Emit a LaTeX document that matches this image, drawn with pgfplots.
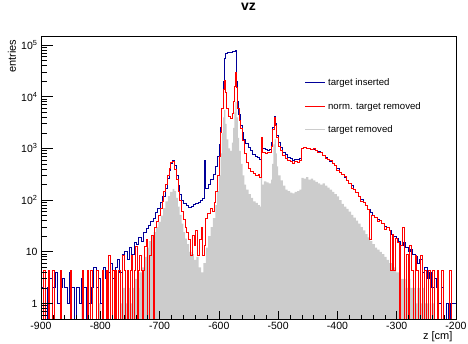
\documentclass[border=0pt]{standalone}
\usepackage{pgfplots}
\pgfplotsset{compat=1.18}
\usepackage{fontspec}
\setmainfont{Liberation Sans}
\definecolor{rootblue}{RGB}{0,0,153}
\definecolor{rootred}{RGB}{255,0,0}
\definecolor{rootgray}{RGB}{204,204,204}
\newcommand{\legkey}[1]{\textcolor{#1}{\rule[2.7pt]{20pt}{0.8pt}}\hspace{3pt}}
\begin{document}
\begin{tikzpicture}
\useasboundingbox (0,0) rectangle (468pt,343pt);
\begin{axis}[
 at={(41pt,24pt)}, anchor=south west,
 scale only axis, width=415pt, height=283pt,
 ymode=log, xmin=-900, xmax=-200, ymin=0.5, ymax=1.5e5,
 axis on top,
 axis line style={line width=0.8pt},
 tick align=inside, xtick pos=bottom, ytick pos=left,
 xtick={-900,-800,-700,-600,-500,-400,-300,-200},
 xticklabels={-900,-800,-700,-600,-500,-400,-300,-200},
 minor xtick={-880,-860,-840,-820,-780,-760,-740,-720,-680,-660,-640,-620,-580,-560,-540,-520,-480,-460,-440,-420,-380,-360,-340,-320,-280,-260,-240,-220},
 ytick={1,10,100,1000,10000,100000},
 yticklabels={1,10,{10\textsuperscript{2}},{10\textsuperscript{3}},{10\textsuperscript{4}},{10\textsuperscript{5}}},
 minor ytick={0.6,0.7,0.8,0.9,2,3,4,5,6,7,8,9,20,30,40,50,60,70,80,90,200,300,400,500,600,700,800,900,2000,3000,4000,5000,6000,7000,8000,9000,20000,30000,40000,50000,60000,70000,80000,90000},
 major tick length=12pt, minor tick length=6pt,
 xtick style={/pgfplots/major tick length=8.5pt,/pgfplots/minor tick length=4.3pt},
 tick style={black, line width=0.7pt},
 ticklabel style={font=\fontsize{10.5}{12}\selectfont},
 title={vz},
 title style={at={(0.5,1.081)}, anchor=center, font=\fontsize{14}{16}\selectfont\bfseries},
 xlabel={z [cm]},
 xlabel style={at={(1,-0.0636)}, anchor=east, font=\fontsize{11}{13}\selectfont},
 ylabel={entries},
 ylabel style={at={(-0.0699,1)}, anchor=east, font=\fontsize{11}{13}\selectfont},
]

% target removed (gray fill)
\addplot[const plot, fill=rootgray, draw=none] coordinates {
(-900,0.1)(-832,1)(-829,0.1)(-802,1)(-799,0.1)(-766,1)(-762,2)(-758,1)(-754,2)(-750,1)(-746,2)(-742,3)(-738,2)(-734,4)(-730,5)(-726,8)(-722,12)(-718,16)(-714,20)(-710,24)(-706,30)(-702,38)(-698,50)(-694,70)(-690,95)(-686,120)(-682,145)(-678,165)(-675,150)(-672,110)(-669,75)(-666,52)(-663,35)(-660,24)(-657,18)(-654,14)(-650,10)(-646,9)(-642,7)(-638,8)(-634,5)(-630,4)(-626,6)(-622,12)(-618,20)(-614,30)(-610,45)(-606,80)(-603,150)(-600,300)(-597,800)(-595,2000)(-593,4000)(-591,5500)(-589,3000)(-587,1500)(-584,1000)(-581,900)(-578,1300)(-576,2500)(-574,5000)(-572,8000)(-570,4000)(-568,1600)(-566,900)(-563,500)(-560,300)(-557,200)(-554,160)(-550,130)(-546,110)(-542,95)(-538,88)(-534,80)(-531,75)(-529,700)(-527,200)(-524,230)(-520,220)(-516,210)(-512,250)(-510,500)(-508,1200)(-506,1500)(-504,800)(-502,450)(-500,300)(-496,240)(-492,190)(-488,160)(-484,150)(-480,140)(-476,135)(-472,145)(-468,150)(-464,160)(-461,270)(-457,260)(-453,280)(-449,250)(-445,260)(-441,240)(-437,225)(-433,210)(-429,200)(-425,210)(-421,190)(-417,175)(-413,160)(-409,145)(-405,130)(-401,118)(-397,100)(-393,85)(-389,75)(-385,68)(-381,60)(-377,52)(-373,46)(-369,40)(-365,35)(-361,30)(-357,26)(-353,22)(-349,19)(-345,16)(-341,14)(-337,12)(-333,11)(-329,10)(-325,9)(-321,8)(-317,7)(-313,6)(-309,6)(-305,5)(-301,4)(-297,4)(-293,3)(-289,3)(-285,2)(-281,3)(-277,2)(-273,2)(-269,1)(-265,2)(-261,1)(-257,2)(-253,1)(-249,1)(-245,0.1)(-241,1)(-237,0.1)(-200,0.1)
};

% target inserted (blue)
\addplot[const plot, color=rootblue, line width=0.8pt] coordinates {
(-900,2)(-896,4)(-892,0.1)(-889,2)(-885,3)(-880,2)(-876,4)(-872,1)(-868,2)(-864,3)(-860,2)(-856,1)(-852,4)(-848,2)(-844,0.1)(-840,2)(-836,1)(-832,3)(-828,2)(-824,0.1)(-820,1)(-815,2)(-811,5)(-807,2)(-803,3)(-799,1)(-795,5)(-791,3)(-787,4)(-783,6)(-779,3)(-775,5)(-771,7)(-767,4)(-763,9)(-759,10)(-755,7)(-751,12)(-747,9)(-743,15)(-739,14)(-735,19)(-731,16)(-727,24)(-723,28)(-719,33)(-715,38)(-711,45)(-707,58)(-703,70)(-699,90)(-695,120)(-691,170)(-687,260)(-684,380)(-681,520)(-678,580)(-675,460)(-672,300)(-669,190)(-666,130)(-663,100)(-659,88)(-655,80)(-651,72)(-647,76)(-643,82)(-639,88)(-635,92)(-631,100)(-627,110)(-624,600)(-622,170)(-618,200)(-614,250)(-610,320)(-606,450)(-602,700)(-599,1200)(-597,2500)(-595,6000)(-593,20000)(-591,55000)(-589,68000)(-586,72000)(-582,73000)(-578,74000)(-574,75000)(-572,80000)(-571,20000)(-569,8000)(-567,4500)(-564,2800)(-561,2000)(-558,1500)(-555,1250)(-551,1050)(-547,900)(-543,780)(-539,700)(-535,660)(-531,620)(-528,1600)(-526,1000)(-522,950)(-518,930)(-514,960)(-511,1300)(-509,2500)(-507,4200)(-505,3000)(-503,1800)(-500,1300)(-496,1050)(-492,850)(-488,750)(-484,680)(-480,640)(-476,600)(-472,620)(-468,610)(-464,640)(-461,1000)(-457,1050)(-453,980)(-449,1000)(-445,950)(-441,960)(-437,900)(-433,870)(-429,820)(-425,720)(-421,680)(-417,620)(-413,560)(-409,520)(-405,460)(-401,410)(-397,350)(-393,310)(-389,270)(-385,240)(-381,210)(-377,190)(-373,160)(-369,140)(-365,120)(-361,105)(-357,90)(-353,78)(-349,66)(-345,57)(-341,50)(-337,46)(-333,42)(-329,40)(-325,36)(-321,31)(-317,30)(-313,26)(-309,22)(-305,20)(-301,18)(-297,16)(-293,13)(-289,15)(-285,12)(-281,10)(-277,11)(-273,9)(-269,8)(-265,6)(-261,7)(-257,4)(-253,5)(-249,3)(-245,4)(-241,2)(-237,3)(-233,2)(-229,1)(-225,2)(-221,0.1)(-217,1)(-213,0.1)(-209,1)(-205,1)(-200,1)
};

% norm. target removed (red)
\addplot[const plot, color=rootred, line width=0.8pt] coordinates {
(-900,0.1)(-896,4.3)(-893,0.1)(-888,4.3)(-886,0.1)(-881,4.3)(-878,0.1)(-868,4.3)(-865,0.1)(-851,4.3)(-849,0.1)(-831,4.3)(-828,0.1)(-822,4.3)(-820,0.1)(-816,4.3)(-813,0.1)(-806,4.3)(-803,0.1)(-797,4.3)(-794,0.1)(-790,4.3)(-788,0.1)(-786,8.6)(-783,0.1)(-779,4.3)(-777,0.1)(-775,4.3)(-773,0.1)(-769,4.3)(-766,0.1)(-763,8.6)(-760,4.3)(-757,0.1)(-754,4.3)(-752,0.1)(-750,4.3)(-748,8.6)(-746,0.1)(-743,4.3)(-740,12.9)(-738,0.1)(-736,4.3)(-734,8.6)(-731,4.3)(-729,0.1)(-727,4.3)(-725,12.9)(-722,17)(-720,0.1)(-717,8.6)(-714,21)(-711,0.1)(-709,30)(-705,38)(-702,50)(-699,70)(-696,95)(-693,150)(-690,200)(-687,300)(-684,420)(-681,540)(-678,560)(-675,400)(-672,250)(-669,150)(-666,100)(-663,60)(-660,42)(-657,30)(-654,24)(-651,17)(-648,8.6)(-645,21)(-642,13)(-639,26)(-636,8.6)(-633,17)(-630,30)(-627,8.6)(-624,13)(-622,45)(-619,55)(-615,70)(-611,60)(-608,90)(-605,150)(-602,300)(-599,700)(-597,2000)(-595,6000)(-593,14000)(-591,21000)(-589,12000)(-587,6000)(-584,4200)(-581,3800)(-578,4800)(-576,8000)(-574,16000)(-572,29000)(-570,15000)(-568,6000)(-566,3500)(-563,2400)(-560,1400)(-557,800)(-554,530)(-550,420)(-546,360)(-542,330)(-538,300)(-534,310)(-531,280)(-528,1600)(-526,850)(-522,800)(-518,820)(-514,850)(-511,1100)(-509,2300)(-507,4000)(-505,2800)(-503,1600)(-500,1100)(-496,900)(-492,720)(-488,650)(-484,600)(-480,560)(-476,520)(-472,560)(-468,540)(-464,600)(-461,1000)(-457,1050)(-453,1020)(-449,1000)(-445,950)(-441,990)(-437,900)(-433,840)(-429,820)(-425,720)(-421,640)(-417,620)(-413,580)(-409,520)(-405,460)(-401,380)(-397,350)(-393,310)(-389,290)(-385,240)(-381,210)(-377,170)(-373,160)(-369,140)(-365,120)(-361,95)(-357,90)(-353,78)(-349,66)(-346,17)(-343,50)(-341,50)(-337,46)(-333,38)(-329,40)(-325,36)(-321,27)(-317,30)(-313,26)(-311,4.3)(-308,22)(-305,4.3)(-302,18)(-299,15)(-296,0.1)(-293,13)(-290,30)(-287,0.1)(-284,9)(-281,0.1)(-278,13)(-275,4.3)(-272,0.1)(-269,8.6)(-266,4.3)(-263,0.1)(-260,8.6)(-257,0.1)(-254,4.3)(-250,0.1)(-247,4.3)(-244,0.1)(-240,4.3)(-237,0.1)(-232,4.3)(-229,0.1)(-224,4.3)(-221,0.1)(-211,4.3)(-208,0.1)(-200,0.1)
};

% legend (key line set in the text)
\node[anchor=west, inner sep=0pt, font=\fontsize{9.6}{11}\selectfont] at (axis description cs:0.636,0.833) {\legkey{rootblue}target inserted};
\node[anchor=west, inner sep=0pt, font=\fontsize{9.6}{11}\selectfont] at (axis description cs:0.636,0.750) {\legkey{rootred}norm. target removed};
\node[anchor=west, inner sep=0pt, font=\fontsize{9.6}{11}\selectfont] at (axis description cs:0.636,0.668) {\legkey{rootgray}target removed};
\end{axis}
\end{tikzpicture}
\end{document}
